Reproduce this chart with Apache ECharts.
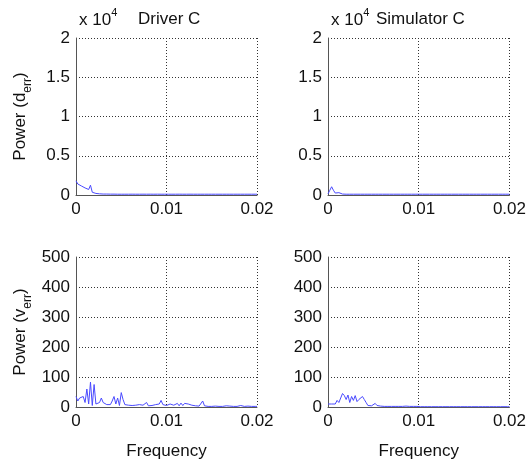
<!DOCTYPE html>
<html>
<head>
<meta charset="utf-8">
<script src="https://cdn.jsdelivr.net/npm/echarts@6/dist/echarts.min.js"></script>
<style>
  html, body { margin: 0; padding: 0; background: #fff; }
  #main { width: 529px; height: 461px; }
</style>
</head>
<body>
<div id="main"></div>
<script>
// frequency grid (shared by all four panels)
var freq = [0, 0.0002, 0.0004, 0.0006, 0.0008, 0.001, 0.0012, 0.0014, 0.0016, 0.0018,
  0.002, 0.0022, 0.0024, 0.0026, 0.0028, 0.003, 0.0032, 0.0034, 0.0036, 0.0038,
  0.004, 0.0042, 0.0044, 0.0046, 0.0048, 0.005, 0.0052, 0.0054, 0.0056, 0.0058,
  0.006, 0.0062, 0.0064, 0.0066, 0.0068, 0.007, 0.0072, 0.0074, 0.0076, 0.0078,
  0.008, 0.0082, 0.0084, 0.0086, 0.0088, 0.009, 0.0092, 0.0094, 0.0096, 0.0098,
  0.01, 0.0102, 0.0104, 0.0106, 0.0108, 0.011, 0.0112, 0.0114, 0.0116, 0.0118,
  0.012, 0.0122, 0.0124, 0.0126, 0.0128, 0.013, 0.0132, 0.0134, 0.0136, 0.0138,
  0.014, 0.0142, 0.0144, 0.0146, 0.0148, 0.015, 0.0152, 0.0154, 0.0156, 0.0158,
  0.016, 0.0162, 0.0164, 0.0166, 0.0168, 0.017, 0.0172, 0.0174, 0.0176, 0.0178,
  0.018, 0.0182, 0.0184, 0.0186, 0.0188, 0.019, 0.0192, 0.0194, 0.0196, 0.0198, 0.02];

// power of d_err, driver C
var driverD = [1800, 1400, 1500, 1150, 1300, 900, 1150, 700, 1250, 350,
  600, 200, 250, 150, 200, 120, 180, 120, 150, 110,
  130, 110, 160, 100, 110, 100, 105, 100, 110, 100,
  100, 105, 100, 100, 110, 100, 100, 105, 100, 100,
  100, 105, 100, 100, 100, 105, 100, 100, 100, 100,
  100, 100, 105, 100, 100, 100, 100, 105, 100, 100,
  100, 100, 100, 105, 100, 100, 100, 100, 100, 100,
  105, 100, 100, 100, 100, 100, 100, 100, 100, 100,
  100, 100, 100, 100, 100, 100, 100, 100, 100, 100,
  100, 100, 100, 100, 100, 100, 100, 100, 100, 100, 100];

// power of d_err, simulator C
var simD = [150, 600, 1050, 600, 250, 400, 300, 150, 120, 100,
  100, 100, 100, 100, 100, 100, 100, 100, 100, 100,
  100, 100, 100, 100, 100, 100, 100, 100, 100, 100,
  100, 100, 100, 100, 100, 100, 100, 100, 100, 100,
  100, 100, 100, 100, 100, 100, 100, 100, 100, 100,
  100, 100, 100, 100, 100, 100, 100, 100, 100, 100,
  100, 100, 100, 100, 100, 100, 100, 100, 100, 100,
  100, 100, 100, 100, 100, 100, 100, 100, 100, 100,
  100, 100, 100, 100, 100, 100, 100, 100, 100, 100,
  100, 100, 100, 100, 100, 100, 100, 100, 100, 100, 100];

// power of v_err, driver C
var driverV = [35, 20, 30, 25, 35, 15, 60, 10, 83, 5,
  75, 10, 8, 15, 30, 15, 10, 8, 12, 8,
  20, 35, 10, 30, 5, 48, 25, 8, 5, 6,
  4, 5, 4, 6, 5, 8, 10, 6, 12, 15,
  4, 3, 5, 6, 8, 5, 10, 22, 8, 12,
  5, 8, 10, 4, 6, 3, 12, 4, 13, 5,
  12, 6, 10, 4, 6, 3, 4, 5, 3, 6,
  20, 4, 3, 2, 3, 2, 2, 3, 2, 2,
  3, 2, 2, 4, 6, 3, 2, 2, 3, 2,
  2, 5, 3, 2, 2, 3, 2, 2, 3, 2, 2];

// power of v_err, simulator C
var simV = [10, 10, 10, 10, 10, 22, 15, 10, 45, 38,
  25, 40, 15, 35, 22, 38, 18, 25, 20, 35,
  25, 15, 5, 3, 4, 8, 12, 5, 8, 3,
  2, 2, 2, 2, 2, 2, 2, 2, 2, 2,
  5, 2, 2, 3, 5, 2, 2, 2, 2, 2,
  1, 1, 1, 1, 1, 1, 1, 1, 1, 1,
  1, 1, 1, 1, 1, 1, 1, 1, 1, 1,
  1, 1, 1, 1, 1, 1, 1, 1, 1, 1,
  1, 1, 1, 1, 1, 1, 1, 1, 1, 1,
  1, 1, 1, 1, 1, 1, 1, 1, 1, 1, 1];

var xTicks = [0, 0.01, 0.02];
var dTicks = [0, 0.5, 1, 1.5, 2];     // x 10^4
var vTicks = [0, 100, 200, 300, 400, 500];

var font = 'Liberation Sans, Arial, Helvetica, sans-serif';
var lineColor = '#4a4aff';
var gridColor = '#333';
var fs = 17;

function pairs(ys) {
  return ys.map(function (y, i) { return [freq[i], y]; });
}

function xAxisOf(idx, withName) {
  return {
    type: 'value', gridIndex: idx, min: xTicks[0], max: xTicks[2], interval: 0.01,
    name: withName ? 'Frequency' : '', nameLocation: 'middle', nameGap: 36,
    nameTextStyle: { fontFamily: font, fontSize: fs, color: '#111' },
    axisLine: { show: true, onZero: false, lineStyle: { color: '#555', width: 1 } },
    axisTick: { show: false },
    axisLabel: { fontFamily: font, fontSize: fs, color: '#111', margin: 6,
      formatter: function (v) { return v === 0 ? '0' : v.toFixed(2); } },
    splitLine: { show: true, lineStyle: { color: gridColor, type: [1, 2], width: 1 } }
  };
}

function yAxisOf(idx, top, name) {
  var o = {
    type: 'value', gridIndex: idx,
    axisLine: { show: true, lineStyle: { color: '#555', width: 1 } },
    axisTick: { show: false },
    axisLabel: { fontFamily: font, fontSize: fs, color: '#111', margin: 6 },
    splitLine: { show: true, lineStyle: { color: gridColor, type: [1, 2], width: 1 } },
    name: name || '', nameLocation: 'middle', nameRotate: 90, nameGap: 42,
    nameTextStyle: {
      fontFamily: font, fontSize: fs, color: '#111',
      rich: {
        n: { fontFamily: font, fontSize: fs, color: '#111', lineHeight: 22, verticalAlign: 'top' },
        s: { fontFamily: font, fontSize: 12, color: '#111', lineHeight: 22, verticalAlign: 'bottom' }
      }
    }
  };
  if (top) {
    o.min = 0; o.max = 20000; o.interval = 5000;
    o.axisLabel.formatter = function (v) { return String(v / 10000); };
  } else {
    o.min = 0; o.max = 500; o.interval = 100;
  }
  return o;
}

function series(idx, ys) {
  return {
    type: 'line', xAxisIndex: idx, yAxisIndex: idx, data: pairs(ys),
    showSymbol: false, symbol: 'none', animation: false,
    lineStyle: { color: lineColor, width: 1 }
  };
}

var supStyle = {
  fontFamily: font, fontSize: fs, color: '#111', fontWeight: 'normal',
  rich: {
    n: { fontFamily: font, fontSize: fs, color: '#111', fontWeight: 'normal', lineHeight: 22, verticalAlign: 'bottom' },
    p: { fontFamily: font, fontSize: 11, color: '#111', fontWeight: 'normal', lineHeight: 22, verticalAlign: 'top' }
  }
};
var plainStyle = { fontFamily: font, fontSize: fs, color: '#111', fontWeight: 'normal' };

var chart = echarts.init(document.getElementById('main'), null, { renderer: 'canvas' });
chart.setOption({
  backgroundColor: '#fff',
  animation: false,
  title: [
    { text: '{n|x 10}{p|4}', left: 74, top: 2, textStyle: supStyle },
    { text: 'Driver C', left: 133, top: 6, textStyle: plainStyle },
    { text: '{n|x 10}{p|4}', left: 326, top: 2, textStyle: supStyle },
    { text: 'Simulator C', left: 371, top: 6, textStyle: plainStyle }
  ],
  grid: [
    { left: 76, top: 38, width: 181, height: 157 },
    { left: 328, top: 38, width: 182, height: 157 },
    { left: 76, top: 257, width: 181, height: 156 },
    { left: 328, top: 257, width: 182, height: 156 }
  ],
  xAxis: [xAxisOf(0, false), xAxisOf(1, false), xAxisOf(2, true), xAxisOf(3, true)],
  yAxis: [
    yAxisOf(0, true, '{n|Power (d}{s|err}{n|)}'),
    yAxisOf(1, true, ''),
    yAxisOf(2, false, '{n|Power (v}{s|err}{n|)}'),
    yAxisOf(3, false, '')
  ],
  series: [
    series(0, driverD),
    series(1, simD),
    series(2, driverV),
    series(3, simV)
  ]
});
</script>
</body>
</html>
